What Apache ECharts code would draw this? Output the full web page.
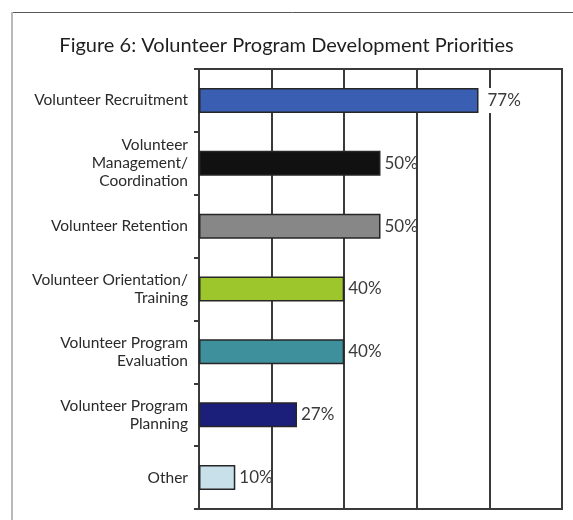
<!DOCTYPE html>
<html>
<head>
<meta charset="utf-8">
<script src="https://cdn.jsdelivr.net/npm/echarts@6/dist/echarts.min.js"></script>
<style>
  html, body { margin: 0; padding: 0; background: #ffffff; }
  #chart { width: 573px; height: 520px; }
</style>
</head>
<body>
<div id="chart"></div>
<script>
// Survey categories, top to bottom
const categories = [
  'Volunteer Recruitment',
  'Volunteer\nManagement/\nCoordination',
  'Volunteer Retention',
  'Volunteer Orientation/\nTraining',
  'Volunteer Program\nEvaluation',
  'Volunteer Program\nPlanning',
  'Other'
];
// Share of respondents (%)
const values = [77, 50, 50, 40, 40, 27, 10];
// One fill per bar
const barColors = ['#3a5fb2', '#111111', '#878787', '#9dc52c', '#3e919c', '#1b1f7a', '#c8e0ea'];
// Percent axis ticks
const axisMin = 0, axisMax = 100, axisStep = 20;

const FONT = 'Lato, "DejaVu Sans", sans-serif';
const INK = '#3a3a3a';

const chart = echarts.init(document.getElementById('chart'), null, { renderer: 'canvas' });

const seriesData = values.map((v, i) => {
  const item = { value: v, itemStyle: { color: barColors[i] } };
  if (i === 0) {
    // first label sits clear of the 80% gridline
    item.label = { distance: 7, backgroundColor: '#ffffff', padding: [4, 2] };
  }
  return item;
});

chart.setOption({
  backgroundColor: '#ffffff',
  animation: false,
  title: {
    text: 'Figure 6: Volunteer Program Development Priorities',
    left: 'center',
    top: 31,
    textStyle: { fontFamily: FONT, fontSize: 20, fontWeight: 'normal', color: '#1e1e1e' }
  },
  graphic: [
    { type: 'line', shape: { x1: 12, y1: 12.5, x2: 573, y2: 12.5 }, style: { stroke: '#5a5a5a', lineWidth: 1 } },
    { type: 'line', shape: { x1: 12, y1: 12, x2: 12, y2: 520 }, style: { stroke: '#b8b8b8', lineWidth: 2 } }
  ],
  grid: {
    left: 199, top: 69, width: 363, height: 440,
    show: true, borderColor: INK, borderWidth: 2, backgroundColor: 'transparent'
  },
  xAxis: {
    type: 'value',
    min: axisMin, max: axisMax, interval: axisStep,
    axisLine: { show: true, lineStyle: { color: INK, width: 2 } },
    axisTick: { show: false },
    axisLabel: { show: false },
    splitLine: { show: true, lineStyle: { color: INK, width: 2 } }
  },
  yAxis: {
    type: 'category',
    inverse: true,
    data: categories,
    axisLine: { show: true, lineStyle: { color: INK, width: 2 } },
    axisTick: { show: true, length: 5, lineStyle: { color: INK, width: 2 } },
    axisLabel: {
      margin: 11,
      fontFamily: FONT, fontSize: 15.5, color: '#2a2a2a',
      lineHeight: 18, align: 'right'
    },
    splitLine: { show: false }
  },
  series: [{
    type: 'bar',
    data: seriesData,
    barWidth: 25,
    itemStyle: { borderColor: '#262626', borderWidth: 1.5 },
    label: {
      show: true,
      position: 'right',
      distance: 4,
      formatter: p => p.value + '%',
      fontFamily: FONT, fontSize: 17, color: '#3a3a3a'
    },
    z: 3
  }]
});
</script>
</body>
</html>
